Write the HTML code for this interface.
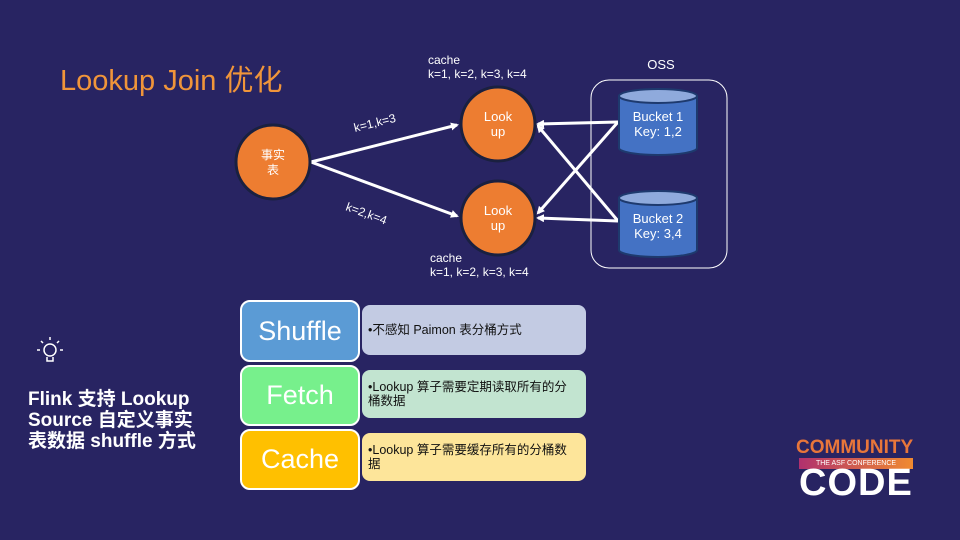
<!DOCTYPE html>
<html><head><meta charset="utf-8"><style>
body{margin:0;width:960px;height:540px;background:#282462;overflow:hidden;font-family:"Liberation Sans","Noto Sans CJK SC",sans-serif;position:relative}
.a{position:absolute}
.lb{position:absolute;left:240px;width:120px;border:2px solid #fff;border-radius:10px;color:#fff;font-size:27px;text-align:center;box-sizing:border-box}
.rb{position:absolute;left:362px;width:224px;border-radius:8px;font-size:12.5px;color:#111;box-sizing:border-box;padding:0 8px 0 6px;display:flex;align-items:center;line-height:14px}
</style></head><body>
<div class="a" style="left:60px;top:57px;font-size:29px;color:#f0953a">Lookup Join 优化</div>
<svg class="a" style="left:0;top:0" width="960" height="540">
<defs><marker id="m" markerWidth="8" markerHeight="8" refX="6" refY="4" orient="auto" markerUnits="userSpaceOnUse"><path d="M0,0 L8,4 L0,8 Z" fill="#fff"/></marker></defs>
<rect x="591" y="80" width="136" height="188" rx="18" fill="none" stroke="#fff" stroke-width="1"/>
<g stroke="#fff" stroke-width="3" fill="none" marker-end="url(#m)">
<line x1="311" y1="162" x2="457" y2="125"/>
<line x1="311" y1="162" x2="457" y2="216"/>
<line x1="618" y1="122" x2="538" y2="124"/>
<line x1="618" y1="122" x2="538" y2="213"/>
<line x1="618" y1="221" x2="538" y2="126"/>
<line x1="618" y1="221" x2="538" y2="218"/>
</g>
<g stroke="#1a2040" stroke-width="3" fill="#ed7d31">
<circle cx="273" cy="162" r="37"/><circle cx="498" cy="124" r="37"/><circle cx="498" cy="218" r="37"/>
</g>
<g stroke="#1e3a6e" stroke-width="2" fill="#4472c4">
<path d="M619,96 v52 a39,7 0 0 0 78,0 v-52"/><ellipse cx="658" cy="96" rx="39" ry="7" fill="#8faadc"/>
<path d="M619,198 v52 a39,7 0 0 0 78,0 v-52"/><ellipse cx="658" cy="198" rx="39" ry="7" fill="#8faadc"/>
</g>
<g fill="#fff" font-size="13" text-anchor="middle">
<text x="273" y="159" font-size="12">事实</text><text x="273" y="174" font-size="12">表</text>
<text x="498" y="121">Look</text><text x="498" y="136">up</text>
<text x="498" y="215">Look</text><text x="498" y="230">up</text>
<text x="658" y="121">Bucket 1</text><text x="658" y="136">Key: 1,2</text>
<text x="658" y="223">Bucket 2</text><text x="658" y="238">Key: 3,4</text>
<text x="661" y="69">OSS</text>
</g>
<g fill="#fff" font-size="12">
<text x="428" y="64">cache</text><text x="428" y="78">k=1, k=2, k=3, k=4</text>
<text x="430" y="262">cache</text><text x="430" y="276">k=1, k=2, k=3, k=4</text>
<text x="355" y="132" transform="rotate(-14 355 132)">k=1,k=3</text>
<text x="345" y="210" transform="rotate(20 345 210)">k=2,k=4</text>
</g>
<g stroke="#fff" stroke-width="1.5" fill="none">
<circle cx="50" cy="350" r="6"/><path d="M47,357 v4 h6 v-4"/><line x1="50" y1="337" x2="50" y2="340"/><line x1="40" y1="350" x2="37" y2="350"/><line x1="60" y1="350" x2="63" y2="350"/><line x1="43" y1="343" x2="41" y2="341"/><line x1="57" y1="343" x2="59" y2="341"/>
</g>
</svg>
<div class="a" style="left:28px;top:389px;color:#fff;font-size:19px;font-weight:bold;line-height:21px">Flink 支持 Lookup<br>Source 自定义事实<br>表数据 shuffle 方式</div>
<div class="rb" style="top:305px;height:50px;background:#c3cbe3">•不感知 Paimon 表分桶方式</div>
<div class="rb" style="top:370px;height:48px;background:#c2e4d0">•Lookup 算子需要定期读取所有的分桶数据</div>
<div class="rb" style="top:433px;height:48px;background:#fde59a">•Lookup 算子需要缓存所有的分桶数据</div>
<div class="lb" style="top:300px;height:62px;line-height:58px;background:#5b9bd5">Shuffle</div>
<div class="lb" style="top:365px;height:61px;line-height:57px;background:#77f08c">Fetch</div>
<div class="lb" style="top:429px;height:61px;line-height:57px;background:#ffc000">Cache</div>
<div class="a" style="left:796px;top:437px;font-size:19px;font-weight:bold;color:#e8763a">COMMUNITY</div>
<div class="a" style="left:799px;top:458px;width:114px;height:11px;background:linear-gradient(90deg,#b0306e,#f08a30);color:#fff;font-size:7px;text-align:center;line-height:11px">THE ASF CONFERENCE</div>
<div class="a" style="left:799px;top:462px;font-size:38px;font-weight:bold;color:#fff;letter-spacing:1px">CODE</div>
</body></html>
